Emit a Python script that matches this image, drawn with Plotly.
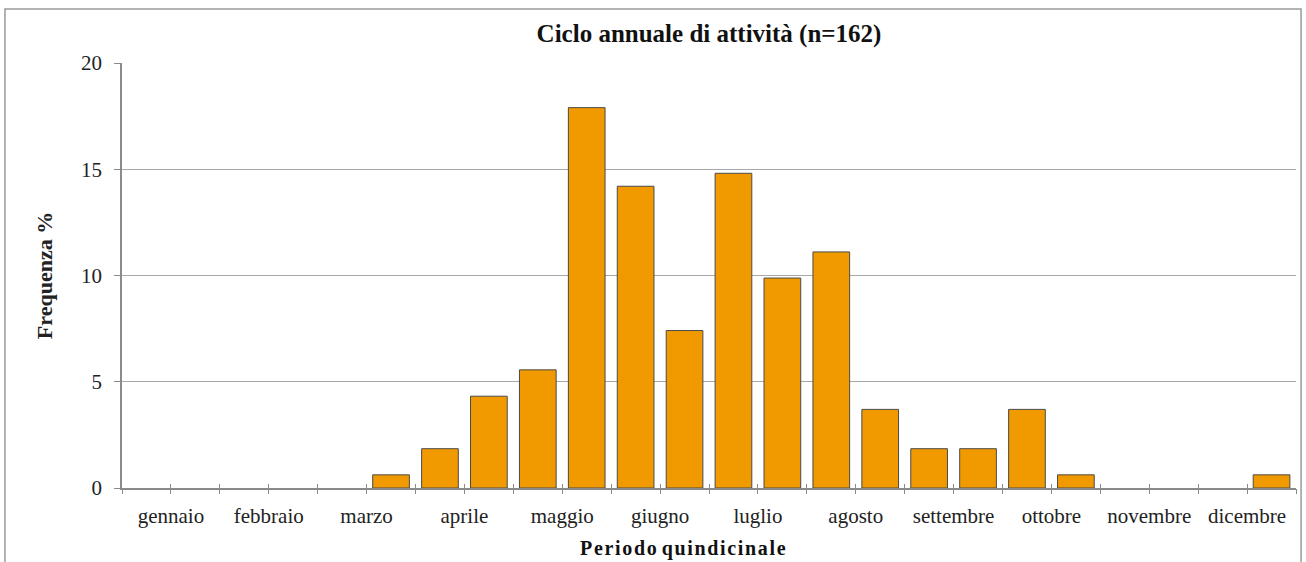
import plotly.graph_objects as go

# Half-month periods (two per month), frequency in % of n=162 observations
months = ["gennaio", "febbraio", "marzo", "aprile", "maggio", "giugno",
          "luglio", "agosto", "settembre", "ottobre", "novembre", "dicembre"]
periods = list(range(24))
frequency = [0.0, 0.0, 0.0, 0.0, 0.0, 0.62,
             1.85, 4.32, 5.56, 17.90, 14.20, 7.41,
             14.81, 9.88, 11.11, 3.70, 1.85, 1.85,
             3.70, 0.62, 0.0, 0.0, 0.0, 0.62]
y_ticks = [0, 5, 10, 15, 20]

month_centres = [2 * i + 0.5 for i in range(12)]
boundaries = [b - 0.5 for b in range(25)]

serif = "Liberation Serif, Times New Roman, serif"
axis_grey = "#8a8a8a"

# no outline on empty periods
outline_widths = [1 if v > 0 else 0 for v in frequency]

fig = go.Figure()
fig.add_trace(go.Bar(
    x=periods, y=frequency,
    marker=dict(color="#F09A00", line=dict(color="#4a4a4a", width=outline_widths)),
    hoverinfo="x+y",
))

# slightly letter-spaced axis caption
x_title = "\u200a".join("Periodo") + " " + "\u200a".join("quindicinale")

x_range = [-0.5, 23.5]
fig.update_layout(
    width=1306, height=562,
    margin=dict(l=122, r=10, t=63, b=74),
    paper_bgcolor="white", plot_bgcolor="white",
    showlegend=False, bargap=0.25,
    font=dict(family=serif, color="#222", size=21),
    title=dict(text="<b>Ciclo annuale di attività (n=162)</b>",
               x=0.5, xref="paper", xanchor="center",
               y=0.94, yref="container", yanchor="middle",
               font=dict(size=25, family=serif, color="#111")),
    xaxis=dict(range=x_range, tickmode="array", tickvals=month_centres,
               ticktext=months, ticks="", showgrid=False, zeroline=False,
               showline=True, linecolor=axis_grey, linewidth=1.5,
               ticklabelstandoff=8, tickfont=dict(size=21, family=serif)),
    xaxis2=dict(range=x_range, overlaying="x", anchor="y", side="bottom",
                tickmode="array", tickvals=boundaries, ticks="outside",
                ticklen=5, tickcolor=axis_grey, showticklabels=False,
                showgrid=False, zeroline=False, showline=False),
    xaxis3=dict(range=x_range, overlaying="x", anchor="y", side="bottom",
                tickmode="array", tickvals=boundaries, ticks="inside",
                ticklen=4, tickcolor=axis_grey, showticklabels=False,
                showgrid=False, zeroline=False, showline=False),
    yaxis=dict(range=[0, 20], tickmode="array", tickvals=y_ticks,
               ticks="outside", ticklen=6, tickcolor=axis_grey,
               showgrid=True, gridcolor="#a8a8a8", gridwidth=1,
               zeroline=False, showline=True, linecolor=axis_grey,
               linewidth=1.5, ticklabelstandoff=8,
               tickfont=dict(size=21, family=serif),
               title=dict(text="<b>Frequenza %</b>",
                          font=dict(size=22, family=serif), standoff=22)),
)

fig.add_annotation(text="<b>" + x_title + "</b>", xref="paper", yref="paper",
                   x=0.478, y=-0.1435, xanchor="center", yanchor="middle",
                   showarrow=False, font=dict(size=20, family=serif, color="#111"))

# Axis-only traces so the tick overlays are drawn
fig.add_trace(go.Scatter(x=[None], y=[None], xaxis="x2", yaxis="y",
                         showlegend=False, hoverinfo="skip"))
fig.add_trace(go.Scatter(x=[None], y=[None], xaxis="x3", yaxis="y",
                         showlegend=False, hoverinfo="skip"))

# Outer chart frame
fig.add_shape(type="rect", xref="paper", yref="paper",
              x0=-0.0997, x1=1.0043, y0=-0.30, y1=1.127,
              line=dict(color="#9a9a9a", width=1.5), fillcolor="rgba(0,0,0,0)",
              layer="below")

fig.write_html("out.html")
